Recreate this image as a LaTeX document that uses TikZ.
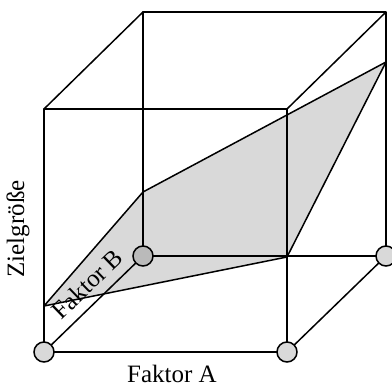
\documentclass[tikz,border=0pt]{standalone}
\usepackage{fontspec}
\setmainfont{Liberation Serif}
\usetikzlibrary{positioning}

\begin{document}
\begin{tikzpicture}[x=1pt,y=-1pt,
  edge/.style={line width=1.5pt, line join=round},
  plane/.style={fill=black!15, draw=black, line width=1.5pt, line join=round},
  corner/.style={circle, draw=black, line width=1.5pt, fill=black!15,
                 minimum size=20pt, inner sep=0pt},
  cornerdark/.style={corner, fill=black!27},
  lbl/.style={font=\fontsize{25}{29}\selectfont, inner sep=0pt}
]
\useasboundingbox (0,0) rectangle (392,387);

% cube corners
\coordinate (fbl) at (44,352);
\coordinate (fbr) at (287,352);
\coordinate (ftl) at (44,109);
\coordinate (ftr) at (287,109);
\coordinate (bbl) at (143,256);
\coordinate (bbr) at (386,256);
\coordinate (btl) at (143,12);
\coordinate (btr) at (386,12);

% response plane
\coordinate (p1) at (44,306);
\coordinate (p2) at (143,192);
\coordinate (p3) at (386,62);
\coordinate (p4) at (287,257);
\draw[plane] (p1) -- (p2) -- (p3) -- (p4) -- cycle;

% edges
\draw[edge] (fbl) -- (fbr) -- (ftr) -- (ftl) -- cycle;
\draw[edge] (bbl) -- (bbr) -- (btr) -- (btl) -- cycle;
\draw[edge] (fbl) -- (bbl);
\draw[edge] (fbr) -- (bbr);
\draw[edge] (ftl) -- (btl);
\draw[edge] (ftr) -- (btr);

% design points
\node[corner]     (c1) at (fbl) {};
\node[corner]     (c2) at (fbr) {};
\node[corner]     (c3) at (bbr) {};
\node[cornerdark] (c4) at (bbl) {};

% labels
\node[lbl, rotate=90] (zg) at (18,229) {Zielgröße};
\node[lbl, rotate=44] (fb) at (87,284) {Faktor B};
\node[lbl]            (fa) at (172,374) {Faktor A};
\end{tikzpicture}
\end{document}
